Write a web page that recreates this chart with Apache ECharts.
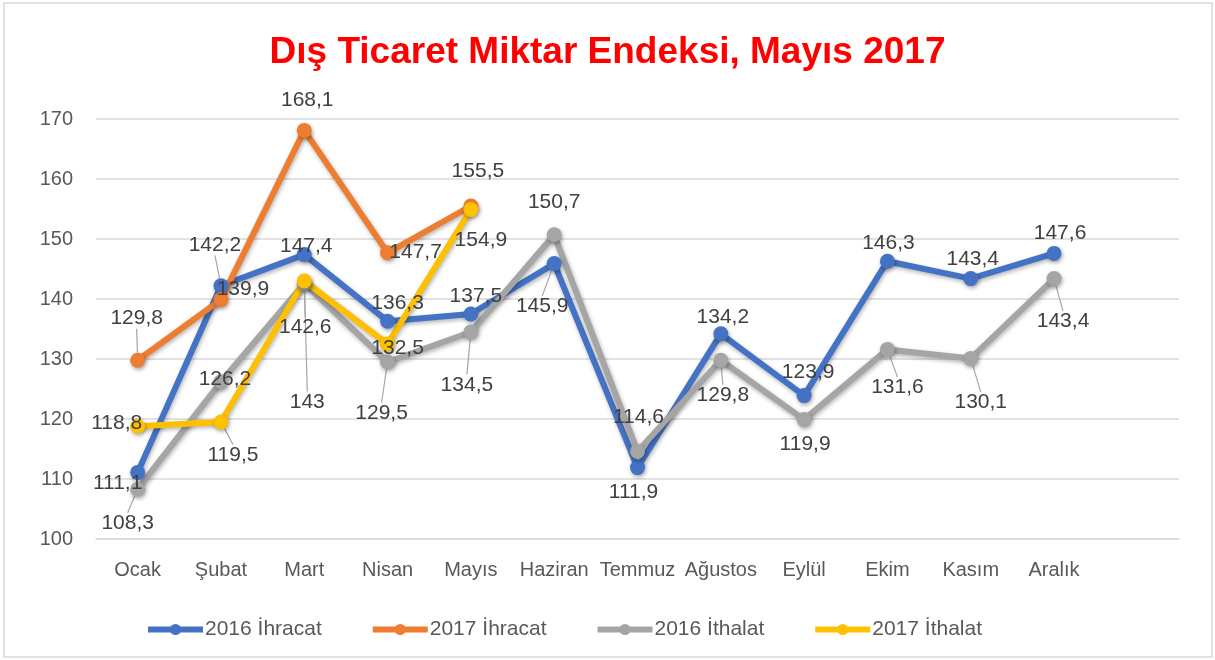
<!DOCTYPE html>
<html>
<head>
<meta charset="utf-8">
<script src="https://cdn.jsdelivr.net/npm/echarts@6/dist/echarts.min.js"></script>
<style>
  body { margin: 0; background: #fff; }
  #chart { width: 1215px; height: 660px; }
</style>
</head>
<body>
<div id="chart"></div>
<script>
// aylar
var months = ['Ocak', 'Şubat', 'Mart', 'Nisan', 'Mayıs', 'Haziran', 'Temmuz', 'Ağustos', 'Eylül', 'Ekim', 'Kasım', 'Aralık'];
var yTicks = [100, 110, 120, 130, 140, 150, 160, 170];

// endeks degerleri
var ihracat2016 = [111.1, 142.2, 147.4, 136.3, 137.5, 145.9, 111.9, 134.2, 123.9, 146.3, 143.4, 147.6];
var ihracat2017 = [129.8, 139.9, 168.1, 147.7, 155.5];
var ithalat2016 = [108.3, 126.2, 142.6, 129.5, 134.5, 150.7, 114.6, 129.8, 119.9, 131.6, 130.1, 143.4];
var ithalat2017 = [118.8, 119.5, 143, 132.5, 154.9];

// etiket kaydirmalari (excel'de elle tasinmis etiketler) [dx, dy, kilavuz cizgi]
var off2016ihr = [[-20, 11, 0], [-6, -41, 1], [2, -8, 0], [10, -18, 0], [5, -18, 0], [-12, 43, 1],
                  [-4, 25, 0], [2, -17, 0], [4, -23, 0], [1, -18, 0], [2, -19, 0], [6, -20, 0]];
var off2017ihr = [[-1, -42, 1], [22, -10, 0], [3, -30, 0], [28, -1, 0], [7, -35, 0]];
var off2016ith = [[-10, 34, 1], [4, -3, 0], [1, 44, 1], [-6, 51, 1], [-4, 53, 1], [0, -33, 0],
                  [1, -34, 0], [2, 35, 1], [1, 25, 0], [10, 38, 1], [10, 44, 1], [9, 43, 1]];
var off2017ith = [[-21, -3, 0], [12, 33, 1], [3, 121, 1], [10, 4, 0], [10, 31, 0]];

var fontName = 'Liberation Sans';

function fmt(v) {
    return String(v).replace('.', ',');
}

function makeSeries(name, values, offsets, color) {
    var data = [];
    for (var i = 0; i < values.length; i++) {
        data.push({
            value: values[i],
            labelLine: { show: offsets[i][2] == 1 }
        });
    }
    return {
        name: name,
        type: 'line',
        data: data,
        symbol: 'circle',
        symbolSize: 15,
        itemStyle: {
            color: color,
            shadowBlur: 4,
            shadowColor: 'rgba(0,0,0,0.35)',
            shadowOffsetX: 1,
            shadowOffsetY: 2
        },
        lineStyle: {
            width: 6,
            color: color,
            shadowBlur: 4,
            shadowColor: 'rgba(0,0,0,0.3)',
            shadowOffsetX: 1,
            shadowOffsetY: 2
        },
        label: {
            show: true,
            position: 'inside',
            color: '#404040',
            fontFamily: fontName,
            fontSize: 21,
            formatter: function (p) { return fmt(p.value); }
        },
        labelLayout: function (p) {
            var o = offsets[p.dataIndex];
            return { dx: o[0], dy: o[1] };
        },
        labelLine: {
            lineStyle: { color: '#A6A6A6', width: 1.2 }
        },
        emphasis: { disabled: true },
        animation: false
    };
}

var chart = echarts.init(document.getElementById('chart'));

var option = {
    backgroundColor: '#fff',
    title: {
        text: 'Dış Ticaret Miktar Endeksi, Mayıs 2017',
        left: 'center',
        top: 29,
        textStyle: {
            color: '#FF0000',
            fontFamily: fontName,
            fontWeight: 'bold',
            fontSize: 37
        }
    },
    graphic: [{
        type: 'rect',
        shape: { x: 4, y: 3, width: 1208, height: 654 },
        style: { fill: 'none', stroke: '#D9D9D9', lineWidth: 1.5 },
        silent: true
    }],
    legend: {
        left: 140,
        top: 614,
        itemWidth: 55,
        itemHeight: 14,
        itemGap: 48,
        lineStyle: { width: 6 },
        textStyle: { color: '#595959', fontFamily: fontName, fontSize: 21, padding: [0, 0, 0, -3] },
        data: ['2016 İhracat', '2017 İhracat', '2016 İthalat', '2017 İthalat']
    },
    grid: {
        left: 96,
        right: 36,
        top: 119,
        bottom: 121,
        containLabel: false
    },
    xAxis: {
        type: 'category',
        data: months,
        max: 12,
        boundaryGap: true,
        axisLine: { lineStyle: { color: '#D9D9D9', width: 1.5 } },
        axisTick: { show: false },
        axisLabel: { color: '#595959', fontFamily: fontName, fontSize: 20, margin: 21, interval: 0 }
    },
    yAxis: {
        type: 'value',
        min: yTicks[0],
        max: yTicks[yTicks.length - 1],
        interval: 10,
        axisLine: { show: false },
        axisTick: { show: false },
        axisLabel: { color: '#595959', fontFamily: fontName, fontSize: 20, margin: 23 },
        splitLine: { lineStyle: { color: '#D9D9D9', width: 1.5 } }
    },
    series: [
        makeSeries('2016 İhracat', ihracat2016, off2016ihr, '#4472C4'),
        makeSeries('2017 İhracat', ihracat2017, off2017ihr, '#ED7D31'),
        makeSeries('2016 İthalat', ithalat2016, off2016ith, '#A5A5A5'),
        makeSeries('2017 İthalat', ithalat2017, off2017ith, '#FFC000')
    ]
};

chart.setOption(option);
</script>
</body>
</html>
